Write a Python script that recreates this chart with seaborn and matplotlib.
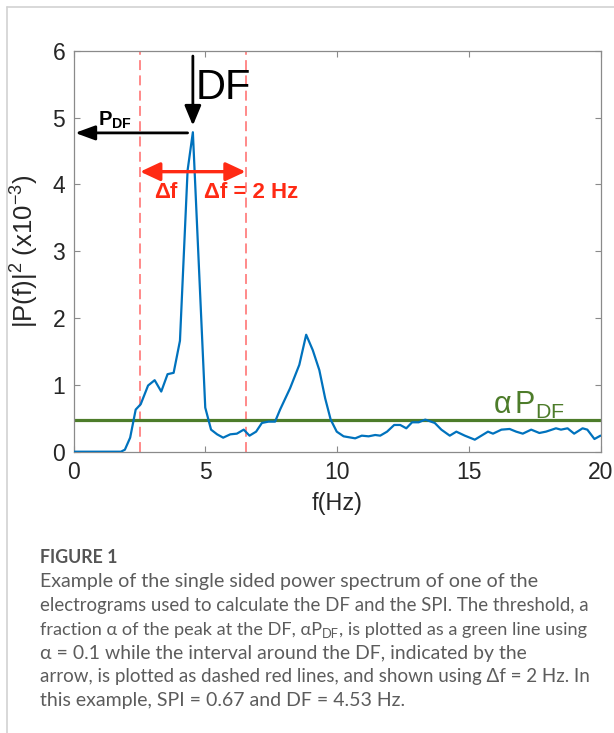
import matplotlib.pyplot as plt
from matplotlib.lines import Line2D
import numpy as np
import pandas as pd
import seaborn as sns

# power spectrum (f in Hz, |P(f)|^2 in units of 1e-3)
freq = [0.00, 1.80, 1.95, 2.15, 2.36, 2.55, 2.83, 3.08, 3.33, 3.57, 3.80, 4.04,
        4.33, 4.53, 5.00, 5.22, 5.45, 5.68, 5.95, 6.20, 6.46, 6.68, 6.93, 7.15,
        7.40, 7.65, 7.84, 8.22, 8.57, 8.83, 9.08, 9.33, 9.55, 9.76, 9.99, 10.25,
        10.69, 10.94, 11.20, 11.45, 11.64, 11.90, 12.17, 12.40, 12.63, 12.85, 13.10,
        13.35, 13.71, 13.96, 14.28, 14.53, 14.85, 15.23, 15.48, 15.73, 15.92, 16.24,
        16.55, 16.80, 17.05, 17.37, 17.68, 17.93, 18.31, 18.50, 18.75, 19.00, 19.32,
        19.50, 19.77, 20.00]
power = [0.00, 0.00, 0.03, 0.21, 0.63, 0.71, 0.99, 1.07, 0.90, 1.16, 1.18, 1.66,
         4.21, 4.78, 0.66, 0.33, 0.26, 0.21, 0.26, 0.27, 0.33, 0.24, 0.30, 0.43,
         0.45, 0.45, 0.63, 0.95, 1.30, 1.75, 1.52, 1.22, 0.80, 0.48, 0.30, 0.23,
         0.20, 0.24, 0.23, 0.25, 0.24, 0.30, 0.40, 0.40, 0.35, 0.44, 0.44,
         0.48, 0.43, 0.33, 0.24, 0.30, 0.24, 0.18, 0.24, 0.30, 0.27, 0.33,
         0.34, 0.30, 0.27, 0.33, 0.28, 0.30, 0.35, 0.33, 0.35, 0.27, 0.35,
         0.33, 0.19, 0.24]

DF = 4.53
P_DF = 4.78
ALPHA = 0.1
DELTA_F = 2.0

xticks = [0, 5, 10, 15, 20]
yticks = [0, 1, 2, 3, 4, 5, 6]

caption_title = "FIGURE 1"
caption_lines = [
    "Example of the single sided power spectrum of one of the",
    "electrograms used to calculate the DF and the SPI. The threshold, a",
    ("fraction \u03b1 of the peak at the DF, \u03b1P", "DF", ", is plotted as a green line using"),
    "\u03b1 = 0.1 while the interval around the DF, indicated by the",
    "arrow, is plotted as dashed red lines, and shown using \u0394f = 2 Hz. In",
    "this example, SPI = 0.67 and DF = 4.53 Hz.",
]
# right edge (px) of each caption line in the page layout
caption_right = [538, 587, 587, 527, 587, 405]

df = pd.DataFrame({"f": freq, "P": power})

sns.set_style("ticks")
plt.rcParams['font.family'] = ['Liberation Sans', 'DejaVu Sans']
plt.rcParams['mathtext.fontset'] = 'custom'
plt.rcParams['mathtext.rm'] = 'Liberation Sans'
plt.rcParams['mathtext.it'] = 'Liberation Sans:italic'
plt.rcParams['mathtext.bf'] = 'Liberation Sans:bold'
plt.rcParams['mathtext.sf'] = 'Liberation Sans'

BLUE = '#0072BD'
GREEN = '#4D7C2A'
RED = '#FF2A14'
SPINE = '#8a8a8a'
TXT = '#262626'

fig = plt.figure(figsize=(6.14, 7.33), dpi=100)
ax = fig.add_axes([73.5 / 614, 1 - 451.7 / 733, 527 / 614, 401 / 733])

sns.lineplot(data=df, x="f", y="P", ax=ax, color=BLUE, lw=1.6, estimator=None, zorder=3)

# threshold and interval
ax.axhline(ALPHA * P_DF, color=GREEN, lw=2.3, zorder=2)
for xv in (DF - DELTA_F, DF + DELTA_F):
    ax.axvline(xv, color='#FF5A5A', lw=1.1, ls=(0, (6.5, 3.5)), alpha=0.9, zorder=1)

ax.set_xlim(0, 20)
ax.set_ylim(0, 6)
ax.set_xticks(xticks)
ax.set_yticks(yticks)
ax.set_xticklabels([str(t) for t in xticks])
ax.set_yticklabels([str(t) for t in yticks])
for sp in ax.spines.values():
    sp.set_color(SPINE)
    sp.set_linewidth(0.9)
ax.tick_params(direction='in', length=4, width=0.8, color=SPINE, top=True, right=True,
               labelsize=16.5, labelcolor=TXT)
ax.tick_params(axis='x', pad=7)
ax.tick_params(axis='y', pad=6)

ax.set_xlabel("f(Hz)", fontsize=16.8, color=TXT, va='center')
ax.xaxis.set_label_coords(0.5, -0.13)
ax.set_ylabel(r"|P(f)|$^2$ (x10$^{-3}$)", fontsize=18.5, color=TXT, va='center')
ax.yaxis.set_label_coords(-0.092, 0.5)

# DF arrow and label
ax.annotate('', xy=(DF, 4.88), xytext=(DF, 5.92),
            arrowprops=dict(arrowstyle='-|>,head_length=0.6,head_width=0.25', color='black',
                            lw=2.0, mutation_scale=20, shrinkA=0, shrinkB=0))
ax.text(DF + 0.11, 5.275, "DF", fontsize=30, color='black', ha='left', va='baseline')

# P_DF arrow and label
ax.annotate('', xy=(0.06, 4.77), xytext=(DF - 0.2, 4.77),
            arrowprops=dict(arrowstyle='-|>,head_length=0.6,head_width=0.22', color='black',
                            lw=2.0, mutation_scale=20, shrinkA=0, shrinkB=0))
ax.text(0.94, 4.88, r"$\mathbf{P}_{\mathbf{DF}}$", fontsize=14.5, color='black', ha='left', va='baseline')

# delta f arrow and labels
ax.annotate('', xy=(DF - DELTA_F, 4.19), xytext=(DF + DELTA_F, 4.19),
            arrowprops=dict(arrowstyle='<|-|>,head_length=0.6,head_width=0.28', color=RED,
                            lw=2.4, mutation_scale=20, shrinkA=0, shrinkB=0))
ax.text(3.07, 3.80, "\u0394f", fontsize=16, color=RED, fontweight='bold', ha='left', va='baseline')
ax.text(4.96, 3.80, "\u0394f = 2 Hz", fontsize=16, color=RED, fontweight='bold', ha='left', va='baseline')

# alpha P_DF label
ax.text(15.93, 0.57, "\u03b1$\\,$P$_{\\rm DF}$", fontsize=22, color=GREEN, ha='left', va='baseline')

# page frame
fig.add_artist(Line2D([7.3 / 614, 1], [1 - 7.3 / 733, 1 - 7.3 / 733], color='#d2d2d2', lw=1.2,
                      transform=fig.transFigure))
fig.add_artist(Line2D([7.3 / 614, 7.3 / 614], [0, 1 - 7.3 / 733], color='#d2d2d2', lw=1.2,
                      transform=fig.transFigure))

# caption
cap_font = ['Lato', 'DejaVu Sans']
cap_col = '#5c5c5c'
x0 = 40 / 614
fig.text(x0, 1 - 563.3 / 733, caption_title, family=cap_font, fontsize=12.8, fontweight='bold',
         color='#555555', va='baseline')
baselines = [587.3, 611, 634.7, 659, 682.3, 706]
groups = []
for line, yb in zip(caption_lines, baselines):
    y = 1 - yb / 733
    if isinstance(line, tuple):
        ta = fig.text(x0, y, line[0], family=cap_font, fontsize=13.5, color=cap_col, va='baseline')
        tb = fig.add_artist(plt.Annotation(line[1], xy=(1, 0), xycoords=(ta, ta), va='baseline',
                                           ha='left', family=cap_font, fontsize=9.6, color=cap_col))
        tc = fig.add_artist(plt.Annotation(line[2], xy=(1, 0), xycoords=(tb, ta), va='bottom',
                                           ha='left', family=cap_font, fontsize=13.5, color=cap_col))
        groups.append([ta, tb, tc])
    else:
        t = fig.text(x0, y, line, family=cap_font, fontsize=13.5, color=cap_col, va='baseline')
        groups.append([t])

# fit each caption line to its measured width
for _ in range(2):
    fig.canvas.draw()
    rend = fig.canvas.get_renderer()
    for arts, right in zip(groups, caption_right):
        width = arts[-1].get_window_extent(rend).x1 - 40
        k = (right - 40) / width
        for a in arts:
            a.set_fontsize(a.get_fontsize() * k)

plt.savefig("out.png", dpi=100)
